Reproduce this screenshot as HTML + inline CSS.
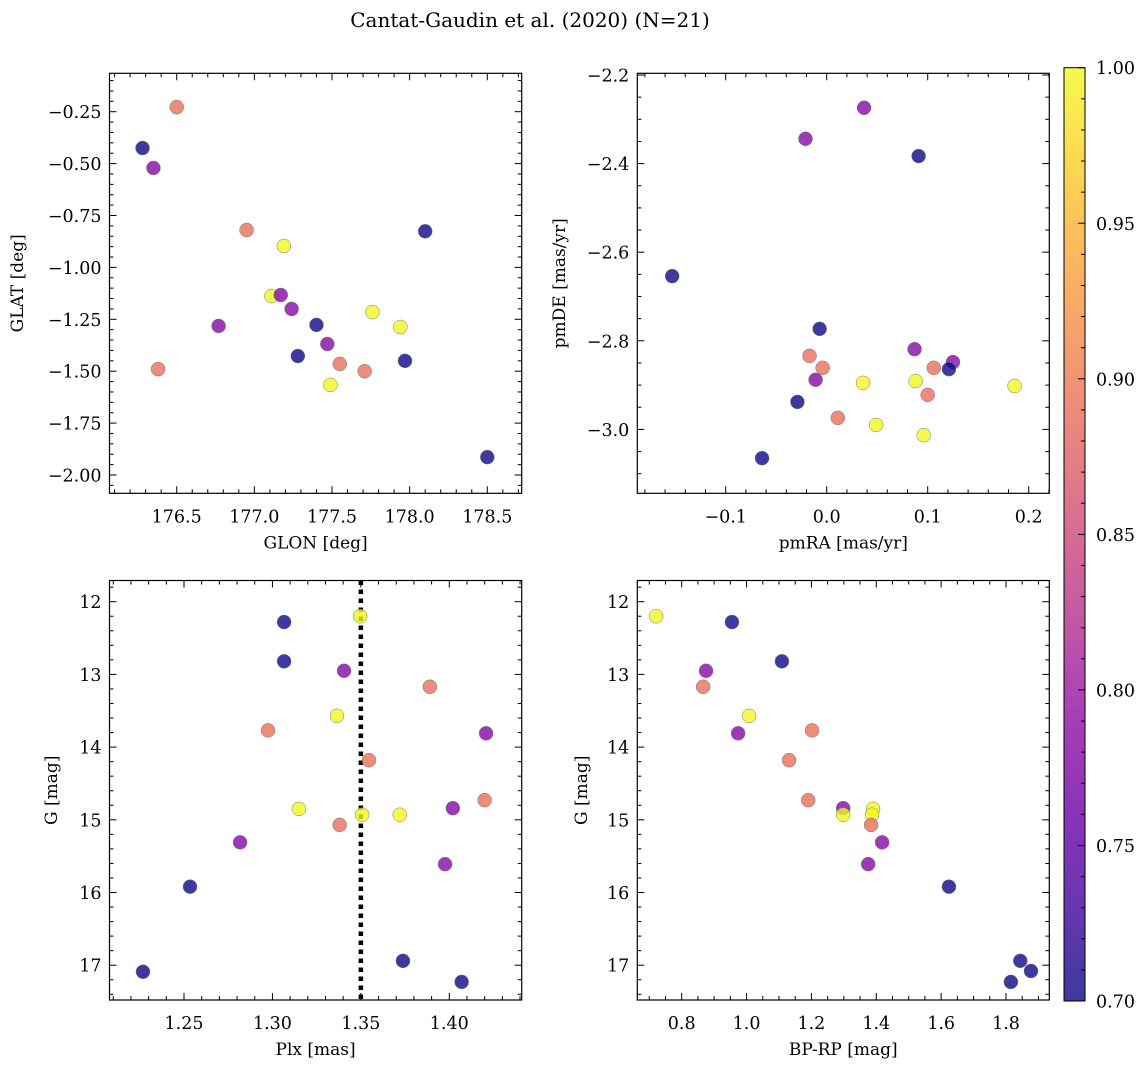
<!DOCTYPE html>
<html><head><meta charset="utf-8">
<style>
html,body{margin:0;padding:0;background:#fff;}
svg{display:block;font-family:"DejaVu Serif","Liberation Serif",serif;}
</style></head>
<body>
<svg id="fig" width="1148" height="1067" viewBox="0 0 1148 1067" xmlns="http://www.w3.org/2000/svg">
<text x="530" y="27" font-size="20" text-anchor="middle">Cantat-Gaudin et al. (2020) (N=21)</text>
</svg>
<script>
// ---- Data ----
const glon = [176.28,176.50,176.35,176.95,177.19,177.11,177.17,176.77,177.24,177.40,177.28,176.38,177.47,177.55,177.49,177.71,177.76,177.94,178.10,177.97,178.50];
const glat = [-0.425,-0.228,-0.521,-0.82,-0.897,-1.138,-1.133,-1.282,-1.20,-1.277,-1.427,-1.49,-1.369,-1.465,-1.566,-1.50,-1.215,-1.287,-0.826,-1.45,-1.914];
const prob1 = [0.70,0.89,0.78,0.89,1.0,1.0,0.78,0.78,0.78,0.70,0.70,0.89,0.78,0.89,1.0,0.89,1.0,1.0,0.70,0.70,0.70];

const pmra = [0.037,-0.021,0.091,-0.153,-0.007,0.087,0.125,0.121,0.106,-0.017,-0.004,-0.011,0.036,0.088,0.186,0.100,-0.029,0.011,0.049,0.096,-0.064];
const pmde = [-2.274,-2.344,-2.383,-2.654,-2.773,-2.819,-2.848,-2.864,-2.861,-2.834,-2.861,-2.888,-2.895,-2.891,-2.902,-2.922,-2.938,-2.974,-2.99,-3.013,-3.065];
const prob2 = [0.78,0.78,0.70,0.70,0.70,0.78,0.78,0.70,0.89,0.89,0.89,0.78,1.0,1.0,1.0,0.89,0.70,0.89,1.0,1.0,0.70];

const plx = [1.3066,1.3066,1.3496,1.3405,1.389,1.3365,1.2975,1.4208,1.3546,1.315,1.402,1.420,1.3507,1.372,1.338,1.2817,1.3976,1.2534,1.3738,1.407,1.2268];
const gmag3 = [12.28,12.82,12.20,12.95,13.17,13.57,13.77,13.81,14.18,14.85,14.84,14.73,14.93,14.93,15.07,15.31,15.61,15.92,16.94,17.23,17.09];
const prob3 = [0.70,0.70,1.0,0.78,0.89,1.0,0.89,0.78,0.89,1.0,0.78,0.89,1.0,1.0,0.89,0.78,0.78,0.70,0.70,0.70,0.70];

const bprp = [0.721,0.955,0.875,0.866,1.109,1.008,0.974,1.202,1.131,1.19,1.298,1.39,1.298,1.387,1.384,1.418,1.375,1.624,1.844,1.877,1.815];
const gmag4 = [12.20,12.28,12.95,13.17,12.82,13.57,13.81,13.77,14.18,14.73,14.84,14.85,14.93,14.93,15.07,15.31,15.61,15.92,16.94,17.08,17.23];
const prob4 = [1.0,0.70,0.78,0.89,0.70,1.0,0.78,0.89,0.89,0.89,0.78,1.0,1.0,1.0,0.89,0.78,0.78,0.70,0.70,0.70,0.70];

const plxCut = 1.35;
const cbTicks = ["0.70","0.75","0.80","0.85","0.90","0.95","1.00"];

// ---- helpers ----
const NS = "http://www.w3.org/2000/svg";
const fig = document.getElementById("fig");
function mk(tag, attrs, parent){
  const e = document.createElementNS(NS, tag);
  for (const k in attrs) e.setAttribute(k, attrs[k]);
  (parent||fig).appendChild(e);
  return e;
}
const stops = [[13,8,135],[65,4,157],[106,0,168],[143,13,164],[177,42,144],[204,71,120],[225,100,98],[242,132,75],[252,166,54],[252,206,37],[240,249,33]];
function plasma(t){
  t = Math.max(0, Math.min(1, t));
  const f = t*10, i = Math.min(9, Math.floor(f)), r = f - i;
  const a = stops[i], b = stops[i+1];
  return "rgb(" + [0,1,2].map(k => Math.round(a[k]+(b[k]-a[k])*r)).join(",") + ")";
}
const vmin = 0.7, vmax = 1.0;
const TF = 17.5, LF = 17;
function fmt(v, d){ const s = v.toFixed(d); return v < 0 ? "\u2212" + s.slice(1) : s; }

function panel(o){
  const g = mk("g", {});
  
  
  const sx = v => o.L + (v - o.x0) / (o.x1 - o.x0) * (o.R - o.L);
  const sy = v => o.T + (v - o.y0) / (o.y1 - o.y0) * (o.B - o.T);
  const tg = mk("g", {stroke:"#000","stroke-width":1}, g);
  const eps = 1e-9;
  for (let v = Math.ceil(o.x0/o.xmin - eps)*o.xmin; v <= o.x1 + eps; v += o.xmin){
    const x = sx(v); if (x < o.L-0.5 || x > o.R+0.5) continue;
    const isMaj = Math.abs(v/o.xmaj - Math.round(v/o.xmaj)) < 1e-6;
    const len = isMaj ? 7 : 4;
    mk("line", {x1:x,x2:x,y1:o.B,y2:o.B-len}, tg);
    mk("line", {x1:x,x2:x,y1:o.T,y2:o.T+len}, tg);
    if (isMaj){
      const t = mk("text", {x:x, y:o.B+29, "font-size":TF, "text-anchor":"middle", stroke:"none", fill:"#000"}, g);
      t.textContent = fmt(v, o.xd);
      
      
    }
  }
  const ylo = Math.min(o.y0,o.y1), yhi = Math.max(o.y0,o.y1);
  for (let v = Math.ceil(ylo/o.ymin - eps)*o.ymin; v <= yhi + eps; v += o.ymin){
    const y = sy(v); if (y < o.T-0.5 || y > o.B+0.5) continue;
    const isMaj = Math.abs(v/o.ymaj - Math.round(v/o.ymaj)) < 1e-6;
    const len = isMaj ? 7 : 4;
    mk("line", {x1:o.L,x2:o.L+len,y1:y,y2:y}, tg);
    mk("line", {x1:o.R,x2:o.R-len,y1:y,y2:y}, tg);
    if (isMaj){
      const t = mk("text", {x:o.L-8, y:y+6.5, "font-size":TF, "text-anchor":"end", fill:"#000"}, g);
      t.textContent = fmt(v, o.yd);
      
      
    }
  }
  if (o.vline !== undefined){
    const vl = mk("line", {x1:sx(o.vline),x2:sx(o.vline),y1:o.T,y2:o.B,stroke:"#000","stroke-width":4.5,"stroke-dasharray":"4.5,4.5"}, g);
    
    
  }
  for (let i = 0; i < o.xs.length; i++){
    const c = mk("circle", {cx:sx(o.xs[i]), cy:sy(o.ys[i]), r:7, fill:plasma((o.cs[i]-vmin)/(vmax-vmin)), "fill-opacity":0.8, stroke:"#777", "stroke-width":0.5}, g);
    
    
  }
  const fr = mk("rect", {x:o.L, y:o.T, width:o.R-o.L, height:o.B-o.T, fill:"none", stroke:"#000", "stroke-width":1.2}, g);
  
  
  const xl = mk("text", {x:(o.L+o.R)/2, y:o.B+55, "font-size":LF, "text-anchor":"middle"}, g);
  xl.textContent = o.xlabel;
  
  
  const yl = mk("text", {x:0, y:0, "font-size":LF, "text-anchor":"middle", transform:"translate(" + o.ylx + "," + ((o.T+o.B)/2) + ") rotate(-90)"}, g);
  yl.textContent = o.ylabel;
  
  
}

panel({name:"glon-glat-panel", L:109.5,R:521.7,T:73.3,B:493.3,
  x0:176.5+(109.5-176.7)/155.3, x1:176.5+(521.7-176.7)/155.3,
  y0:-0.25+(111.7-73.3)/51.9*0.25, y1:-0.25-(493.3-111.7)/51.9*0.25,
  xmaj:0.5,xmin:0.1,ymaj:0.25,ymin:0.05,xd:1,yd:2,
  xs:glon,ys:glat,cs:prob1,xlabel:"GLON [deg]",ylabel:"GLAT [deg]",ylx:23});

panel({name:"proper-motion-panel", L:637.3,R:1049.3,T:73.3,B:493.3,
  x0:(637.3-826.7)/1010, x1:(1049.3-826.7)/1010,
  y0:-2.2+(75-73.3)/88.6*0.2, y1:-2.2-(493.3-75)/88.6*0.2,
  xmaj:0.1,xmin:0.02,ymaj:0.2,ymin:0.05,xd:1,yd:1,
  xs:pmra,ys:pmde,cs:prob2,xlabel:"pmRA [mas/yr]",ylabel:"pmDE [mas/yr]",ylx:565});

panel({name:"parallax-magnitude-panel", L:109.5,R:521.7,T:580.5,B:1000,
  x0:1.25+(109.5-184)/88.43*0.05, x1:1.25+(521.7-184)/88.43*0.05,
  y0:12+(580.5-601.7)/72.7, y1:12+(1000-601.7)/72.7,
  xmaj:0.05,xmin:0.01,ymaj:1,ymin:0.2,xd:2,yd:0,
  xs:plx,ys:gmag3,cs:prob3,xlabel:"Plx [mas]",ylabel:"G [mag]",ylx:57,vline:plxCut});

panel({name:"color-magnitude-panel", L:637.3,R:1049.3,T:580.5,B:1000,
  x0:0.8+(637.3-681.7)/324.3, x1:0.8+(1049.3-681.7)/324.3,
  y0:12+(580.5-601.7)/72.7, y1:12+(1000-601.7)/72.7,
  xmaj:0.2,xmin:0.05,ymaj:1,ymin:0.2,xd:1,yd:0,
  xs:bprp,ys:gmag4,cs:prob4,xlabel:"BP-RP [mag]",ylabel:"G [mag]",ylx:587});

// colorbar
(function(){
  const L=1064,R=1085,T=67.7,B=1001;
  const defs = mk("defs", {});
  const lg = mk("linearGradient", {id:"cbg", x1:0, y1:1, x2:0, y2:0}, defs);
  for (let i = 0; i <= 20; i++){
    mk("stop", {offset:(i/20), "stop-color":plasma(i/20), "stop-opacity":0.8}, lg);
  }
  const r = mk("rect", {x:L,y:T,width:R-L,height:B-T,fill:"url(#cbg)",stroke:"#000","stroke-width":1});
  
  
  const sy = v => B - (v - vmin)/(vmax - vmin)*(B - T);
  for (let k = 0; k <= 30; k++){
    const v = vmin + k*0.01, y = sy(v), maj = (k % 5 === 0);
    mk("line", {x1:R, x2:R-(maj?7:4), y1:y, y2:y, stroke:"#000", "stroke-width":1});
  }
  for (let i = 0; i < cbTicks.length; i++){
    const t = mk("text", {x:R+11, y:sy(parseFloat(cbTicks[i]))+6.5, "font-size":TF});
    t.textContent = cbTicks[i];
    
    
  }
})();
</script>
</body></html>
